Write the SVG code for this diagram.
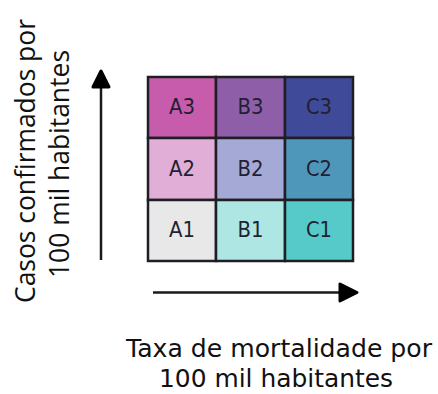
<svg xmlns="http://www.w3.org/2000/svg" width="438" height="394" viewBox="0 0 438 394">
<style>
.cell{stroke:#1e1e24;stroke-width:2.5}
.lbl{font-family:"DejaVu Sans",Verdana,sans-serif;font-size:22px;text-anchor:middle;fill:#231f33}
.ax{font-family:"Open Sans","Liberation Sans",sans-serif;font-size:27px;text-anchor:middle;fill:#111}
.bt{font-family:"DejaVu Sans",Verdana,sans-serif;font-size:25px;text-anchor:middle;fill:#111}
.line{stroke:#1a1a1a;stroke-width:2.5;fill:none}
.head{fill:#000;stroke:#000;stroke-width:3;stroke-linejoin:round}
</style>
<rect width="438" height="394" fill="#fff"/>
<g id="A3"><rect class="cell" x="148" y="77" width="68" height="61" fill="#c65cab"/><text class="lbl" x="182" y="114" textLength="26" lengthAdjust="spacingAndGlyphs" fill="#3a1a48">A3</text></g>
<g id="B3"><rect class="cell" x="216" y="77" width="69" height="61" fill="#8e5ea9"/><text class="lbl" x="250.5" y="114" textLength="26" lengthAdjust="spacingAndGlyphs" fill="#2c1742">B3</text></g>
<g id="C3"><rect class="cell" x="285" y="77" width="68" height="61" fill="#3f4a98"/><text class="lbl" x="319" y="114" textLength="26" lengthAdjust="spacingAndGlyphs" fill="#1a2250">C3</text></g>
<g id="A2"><rect class="cell" x="148" y="138" width="68" height="62" fill="#e1aed7"/><text class="lbl" x="182" y="175.5" textLength="26" lengthAdjust="spacingAndGlyphs">A2</text></g>
<g id="B2"><rect class="cell" x="216" y="138" width="69" height="62" fill="#a5a9d5"/><text class="lbl" x="250.5" y="175.5" textLength="26" lengthAdjust="spacingAndGlyphs">B2</text></g>
<g id="C2"><rect class="cell" x="285" y="138" width="68" height="62" fill="#4f97ba"/><text class="lbl" x="319" y="175.5" textLength="26" lengthAdjust="spacingAndGlyphs" fill="#14304a">C2</text></g>
<g id="A1"><rect class="cell" x="148" y="200" width="68" height="61" fill="#e8e8e8"/><text class="lbl" x="182" y="237" textLength="26" lengthAdjust="spacingAndGlyphs" fill="#1a1a1a">A1</text></g>
<g id="B1"><rect class="cell" x="216" y="200" width="69" height="61" fill="#aee6e3"/><text class="lbl" x="250.5" y="237" textLength="26" lengthAdjust="spacingAndGlyphs" fill="#1a2a30">B1</text></g>
<g id="C1"><rect class="cell" x="285" y="200" width="68" height="61" fill="#56cac8"/><text class="lbl" x="319" y="237" textLength="26" lengthAdjust="spacingAndGlyphs" fill="#14363a">C1</text></g>
<g id="connectors">
<line class="line" x1="101" y1="260" x2="101" y2="86"/>
<polygon class="head" points="101,71 109,87 93,87"/>
<line class="line" x1="153" y1="292.5" x2="341" y2="292.5"/>
<polygon class="head" points="357,292.5 340,284 340,301"/>
</g>
<g id="yaxis">
<text class="ax" transform="translate(35,161) rotate(-90)" textLength="284" lengthAdjust="spacingAndGlyphs">Casos confirmados por</text>
<text class="ax" transform="translate(69,164) rotate(-90)" textLength="228" lengthAdjust="spacingAndGlyphs">100 mil habitantes</text>
</g>
<g id="xaxis">
<text class="bt" x="279" y="357" textLength="306" lengthAdjust="spacingAndGlyphs">Taxa de mortalidade por</text>
<text class="bt" x="276" y="387" textLength="234" lengthAdjust="spacingAndGlyphs">100 mil habitantes</text>
</g>
</svg>
